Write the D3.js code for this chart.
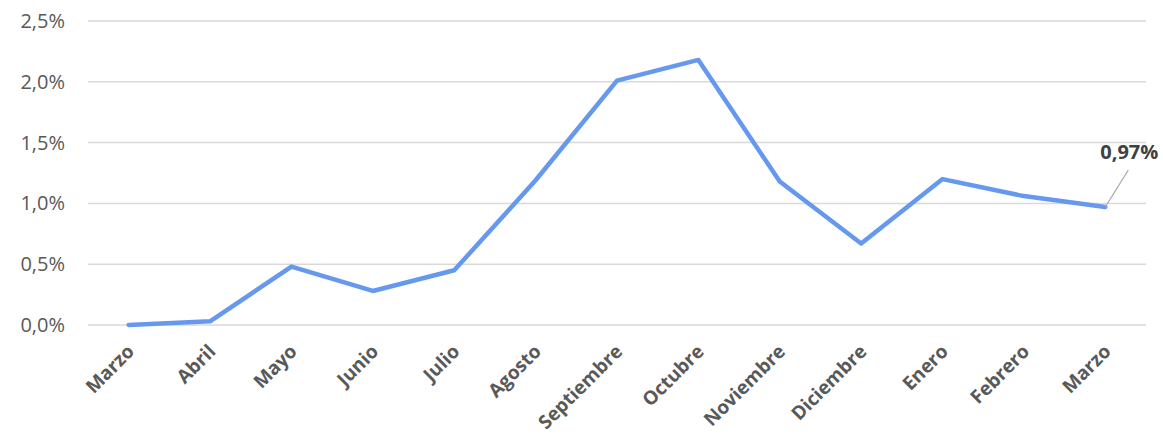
<!DOCTYPE html>
<html>
<head>
  <meta charset="utf-8">
  <title>Variación mensual</title>
  <script src="https://d3js.org/d3.v7.min.js"></script>
  <style>
    body { margin: 0; background: #fff; }
    text { font-family: "Open Sans", sans-serif; fill: #595959; }
    .grid line { stroke: #d9d9d9; stroke-width: 1.5px; }
  </style>
</head>
<body>
  <svg width="1163" height="436"></svg>
  <script>
    // Months and values (%)
    const months = ["Marzo", "Abril", "Mayo", "Junio", "Julio", "Agosto", "Septiembre",
                    "Octubre", "Noviembre", "Diciembre", "Enero", "Febrero", "Marzo"];
    const values = [0.00, 0.03, 0.48, 0.28, 0.45, 1.19, 2.01, 2.18, 1.18, 0.67, 1.20, 1.06, 0.97];
    const yTicks = [0, 0.5, 1.0, 1.5, 2.0, 2.5];

    const svg = d3.select("svg");
    const plotLeft = 88, plotRight = 1146, plotTop = 21, plotBottom = 325;

    // use index as key since "Marzo" appears twice
    const x = d3.scaleBand().domain(d3.range(months.length)).range([plotLeft, plotRight]);
    const y = d3.scaleLinear().domain([0, 2.5]).range([plotBottom, plotTop]);
    const fmt = v => d3.format(".1f")(v).replace(".", ",") + "%";

    // horizontal gridlines
    svg.append("g").attr("class", "grid")
      .selectAll("line")
      .data(yTicks)
      .enter().append("line")
      .attr("x1", plotLeft).attr("x2", plotRight)
      .attr("y1", d => y(d)).attr("y2", d => y(d));

    // y labels
    svg.append("g")
      .selectAll("text")
      .data(yTicks)
      .enter().append("text")
      .attr("x", 65)
      .attr("y", d => y(d))
      .attr("dy", "0.35em")
      .attr("text-anchor", "end")
      .style("font-size", "20px")
      .text(fmt);

    // x labels, rotated
    svg.append("g")
      .selectAll("text")
      .data(months)
      .enter().append("text")
      .attr("transform", (d, i) => `translate(${x(i) + x.bandwidth() / 2 + 2},${plotBottom + 23}) rotate(-45)`)
      .attr("text-anchor", "end")
      .attr("dy", "0.35em")
      .style("font-size", "19px")
      .style("font-weight", "bold")
      .text(d => d);

    // the line
    const line = d3.line()
      .x((d, i) => x(i) + x.bandwidth() / 2)
      .y(d => y(d));

    svg.append("path")
      .datum(values)
      .attr("fill", "none")
      .attr("stroke", "#6699EE")
      .attr("stroke-width", 4.5)
      .attr("stroke-linejoin", "round")
      .attr("stroke-linecap", "round")
      .attr("d", line);

    // label on the last point
    const li = values.length - 1;
    const lx = x(li) + x.bandwidth() / 2, ly = y(values[li]);
    svg.append("line")
      .attr("x1", lx).attr("y1", ly)
      .attr("x2", lx + 23).attr("y2", ly - 37)
      .attr("stroke", "#a6a6a6")
      .attr("stroke-width", 1.2);
    svg.append("text")
      .attr("x", lx + 24)
      .attr("y", ly - 48)
      .attr("text-anchor", "middle")
      .style("font-size", "20px")
      .style("font-weight", "bold")
      .style("fill", "#404040")
      .text(d3.format(".2f")(values[li]).replace(".", ",") + "%");
  </script>
</body>
</html>
